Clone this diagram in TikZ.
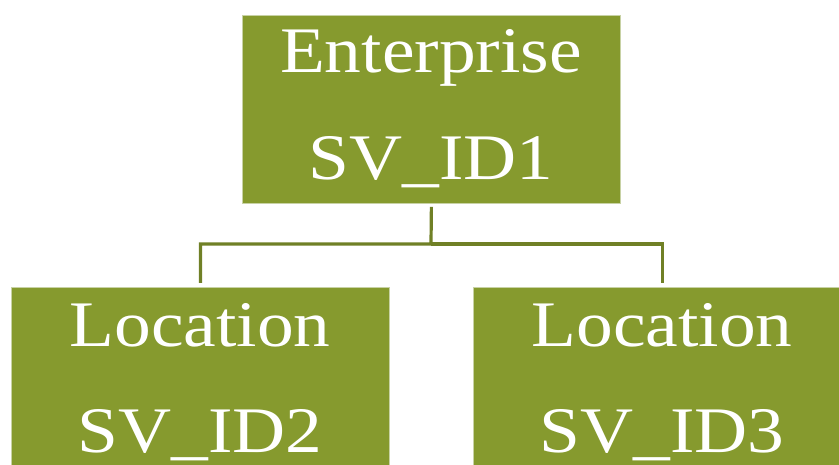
\documentclass[tikz,border=0pt]{standalone}
\usepackage{fontspec}
\setmainfont{Liberation Serif}
\newfontfamily\boxfont[FakeStretch=1.13]{Liberation Serif}
\definecolor{boxgreen}{RGB}{134,154,46}
\definecolor{linegreen}{RGB}{112,128,38}
\definecolor{edgegreen}{RGB}{200,210,165}
\begin{document}
\begin{tikzpicture}[x=1pt,y=-1pt,
  orgbox/.style={rectangle,fill=boxgreen,draw=edgegreen,line width=0.8pt,minimum width=378pt,inner sep=0pt,anchor=north west},
  lbl/.style={text=white,font=\boxfont\fontsize{65}{70}\selectfont,anchor=base,inner sep=0pt},
  conn/.style={draw=linegreen,line width=3.2pt}]
\useasboundingbox (0,0) rectangle (839,465);
\node[orgbox,minimum height=188pt] (ent) at (242,15) {};
\node[orgbox,minimum height=188pt] (loc2) at (11,287) {};
\node[orgbox,minimum height=188pt] (loc3) at (473,287) {};
\node[lbl] (t1a) at (431,73) {Enterprise};
\node[lbl] (t1b) at (431,180) {SV\_ID1};
\node[lbl] (t2a) at (200,347) {Location};
\node[lbl] (t2b) at (200,452) {SV\_ID2};
\node[lbl] (t3a) at (662,347) {Location};
\node[lbl] (t3b) at (662,452) {SV\_ID3};
\coordinate (bus) at (431,244);
\draw[conn] ([yshift=-3pt]ent.south) -- (bus) -| ([yshift=4pt]loc2.north);
\draw[conn] (bus) -| ([yshift=4pt]loc3.north);
\end{tikzpicture}
\end{document}
